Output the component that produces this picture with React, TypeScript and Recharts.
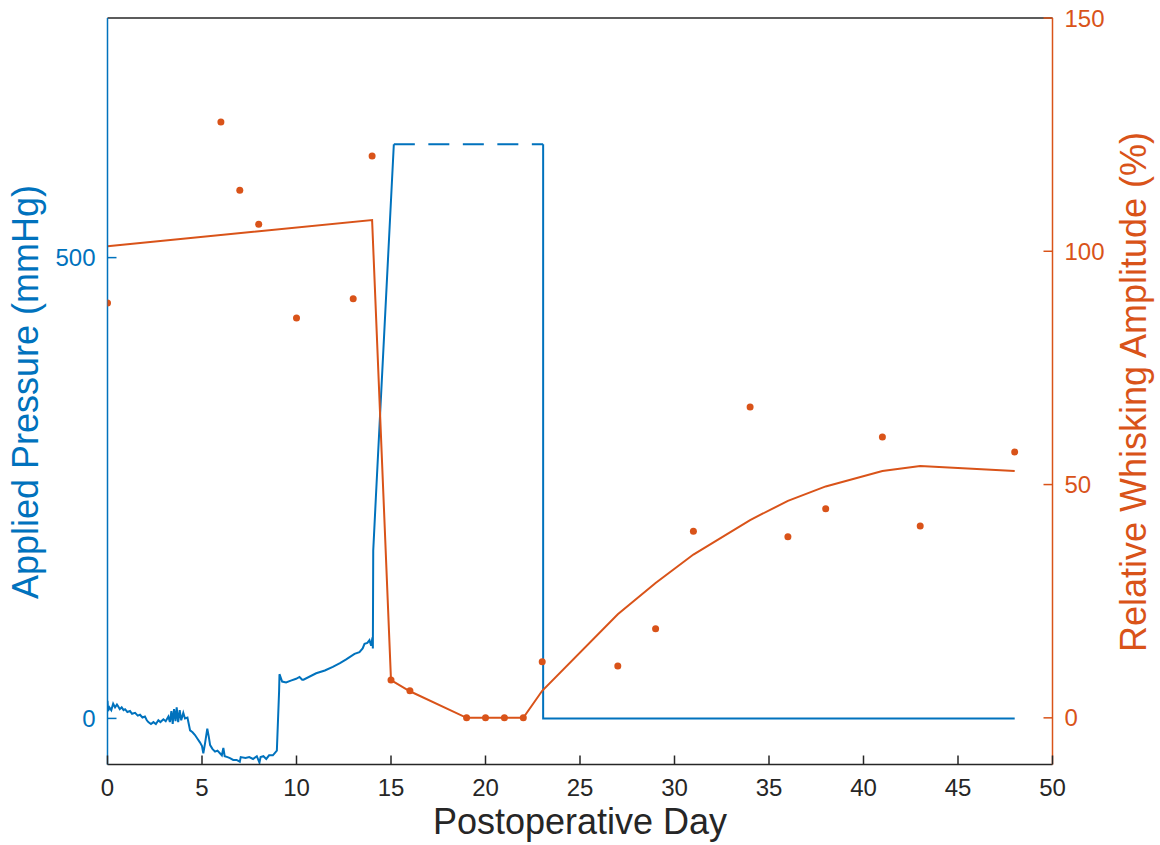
// Pressure vs whisking amplitude: dual-axis line/scatter chart using Recharts
import { ComposedChart, Line, Scatter, XAxis, YAxis, ReferenceLine } from 'recharts';

const BLUE = '#0072BD';
const ORANGE = '#D95319';
const DARK = '#262626';
const FONT = '"Liberation Sans", Arial, Helvetica, sans-serif';

// applied pressure trace (day, mmHg)
const pressureDays = [
  0, 0.03, 0.1, 0.2, 0.3, 0.4, 0.5, 0.57, 0.65, 0.75, 0.85, 0.93, 1.05, 1.19, 1.3, 1.46, 1.6, 1.72,
  1.85, 1.98, 2.08, 2.16, 2.3, 2.43, 2.56, 2.69, 2.8, 2.96, 3.08, 3.22, 3.3, 3.38, 3.45, 3.52, 3.6,
  3.66, 3.74, 3.82, 3.9, 4.01, 4.1, 4.23, 4.3, 4.37, 4.5, 4.63, 4.76, 4.89, 5.0, 5.07, 5.16, 5.28,
  5.36, 5.43, 5.55, 5.69, 5.82, 5.96, 6.05, 6.13, 6.2, 6.35, 6.48, 6.65, 6.83, 7.0, 7.05, 7.3, 7.5,
  7.7, 7.9, 8.04, 8.1, 8.25, 8.4, 8.55, 8.75, 8.96, 9.08, 9.1, 9.24, 9.45, 9.7, 9.98, 10.16, 10.3,
  10.37, 11.04, 11.5, 11.92, 12.3, 12.63, 13.07, 13.33, 13.5, 13.6, 13.75, 13.86, 13.95, 14.02,
  14.04, 14.06, 14.2, 15.15,
];
const pressureValues = [
  19, 8, 12, 9, 16, 12, 15, 13, 10, 12, 9, 10, 7, 8, 5, 6, 3, 4,
  1, 2, -2, -4, -6, -4, -6, -2, -4, -1, -3, 2, -4, 8, -6, 10, -3,
  12, -4, 9, -2, 6, 0, 1, -6, -13, -15, -18, -22, -26, -30, -38, -27, -11,
  -20, -29, -33, -36, -35, -38, -40, -32, -41, -42, -43, -45, -45, -47, -42, -43, -42,
  -44, -41, -48, -42, -41, -44, -40, -40, -35, 30, 48, 40, 39, 41, 43, 45, 42,
  42, 49, 52, 56, 60, 64, 70, 72, 76, 81, 82, 85, 79, 88,
  76, 182, 240, 623,
];
// estimated (dashed) plateau, then release
const plateauDays = [15.15, 23.05];
const plateauValues = [623, 623];
const releaseDays = [23.05, 23.05, 48];
const releaseValues = [623, 0, 0];

// relative whisking amplitude (%)
const ampDays = [0, 6, 7, 8, 10, 13, 14, 15, 16, 19, 20, 21, 22, 23, 27, 29, 31, 34, 36, 38, 41, 43, 48];
const ampValues = [
  88.9, 127.7, 113.1, 105.8, 85.7, 89.8, 120.4, 8.1, 5.8, 0, 0, 0, 0, 12, 11.1, 19.1, 40, 66.6, 38.8,
  44.8, 60.2, 41.1, 57,
];
// fitted amplitude trend
const fitDays = [0, 14, 15, 16, 19, 20, 21, 22, 23, 27, 29, 31, 34, 36, 38, 41, 43, 48];
const fitValues = [101.1, 106.7, 8.1, 5.7, 0, 0, 0, 0, 5.8, 22.2, 28.9, 35, 42.4, 46.5, 49.6, 52.9, 54, 52.9];

const xTicks = [0, 5, 10, 15, 20, 25, 30, 35, 40, 45, 50];
const leftTicks = [0, 500];
const rightTicks = [0, 50, 100, 150];

const toRows = (days: number[], vals: number[], key: string) =>
  days.map((d, i) => ({ day: d, [key]: vals[i] }));

const pressureData = toRows(pressureDays, pressureValues, 'p');
const plateauData = toRows(plateauDays, plateauValues, 'p');
const releaseData = toRows(releaseDays, releaseValues, 'p');
const ampData = toRows(ampDays, ampValues, 'amp');
const fitData = toRows(fitDays, fitValues, 'amp');

const TICK_LEN = 9;

function XTick({ x, y, payload }: any) {
  return (
    <g>
      <line x1={x} y1={y} x2={x} y2={y - TICK_LEN} stroke={DARK} strokeWidth={1.5} />
      <text x={x} y={y + 31.5} textAnchor="middle" fill={DARK} fontSize={24} fontFamily={FONT}>
        {payload.value}
      </text>
    </g>
  );
}

function LeftTick({ x, y, payload }: any) {
  return (
    <g>
      <line x1={x} y1={y} x2={x + TICK_LEN} y2={y} stroke={BLUE} strokeWidth={1.5} />
      <text x={x - 12} y={y} dy="0.36em" textAnchor="end" fill={BLUE} fontSize={24} fontFamily={FONT}>
        {payload.value}
      </text>
    </g>
  );
}

function RightTick({ x, y, payload }: any) {
  return (
    <g>
      <line x1={x} y1={y} x2={x - TICK_LEN} y2={y} stroke={ORANGE} strokeWidth={1.5} />
      <text x={x + 12} y={y} dy="0.36em" textAnchor="start" fill={ORANGE} fontSize={24} fontFamily={FONT}>
        {payload.value}
      </text>
    </g>
  );
}

export default function App() {
  return (
    <div style={{ position: 'absolute', left: 0, top: 0, width: 1160, height: 845, background: '#fff' }}>
      <ComposedChart width={1160} height={845} margin={{ top: 18, right: 47.5, bottom: 40.5, left: 47.5 }}>
        <XAxis
          type="number"
          dataKey="day"
          domain={[0, 50]}
          ticks={xTicks}
          allowDataOverflow
          height={40}
          tickSize={0}
          tickMargin={0}
          tick={<XTick />}
          axisLine={{ stroke: DARK, strokeWidth: 1.5 }}
          tickLine={false}
          label={{
            value: 'Postoperative Day',
            content: () => (
              <text x={580} y={834} textAnchor="middle" fill={DARK} fontSize={36} fontFamily={FONT}>
                Postoperative Day
              </text>
            ),
          }}
        />
        <YAxis
          yAxisId="left"
          orientation="left"
          type="number"
          domain={[-50, 760]}
          ticks={leftTicks}
          allowDataOverflow
          width={60}
          tickSize={0}
          tickMargin={0}
          tick={<LeftTick />}
          axisLine={{ stroke: BLUE, strokeWidth: 1.5 }}
          tickLine={false}
          label={{
            value: 'Applied Pressure (mmHg)',
            content: () => (
              <text
                x={38}
                y={392}
                transform="rotate(-90 38 392)"
                textAnchor="middle"
                fill={BLUE}
                fontSize={36}
                fontFamily={FONT}
              >
                Applied Pressure (mmHg)
              </text>
            ),
          }}
        />
        <YAxis
          yAxisId="right"
          orientation="right"
          type="number"
          domain={[-10, 150]}
          ticks={rightTicks}
          allowDataOverflow
          width={60}
          tickSize={0}
          tickMargin={0}
          tick={<RightTick />}
          axisLine={{ stroke: ORANGE, strokeWidth: 1.5 }}
          tickLine={false}
          label={{
            value: 'Relative Whisking Amplitude (%)',
            content: () => (
              <text
                x={1146}
                y={392}
                transform="rotate(-90 1146 392)"
                textAnchor="middle"
                fill={ORANGE}
                fontSize={36}
                fontFamily={FONT}
              >
                Relative Whisking Amplitude (%)
              </text>
            ),
          }}
        />
        <ReferenceLine yAxisId="left" y={760} stroke={DARK} strokeWidth={1.5} />

        <Line
          yAxisId="left"
          data={pressureData}
          dataKey="p"
          type="linear"
          stroke={BLUE}
          strokeWidth={2}
          dot={false}
          isAnimationActive={false}
        />
        <Line
          yAxisId="left"
          data={plateauData}
          dataKey="p"
          type="linear"
          stroke={BLUE}
          strokeWidth={2}
          strokeDasharray="21 13.5"
          dot={false}
          isAnimationActive={false}
        />
        <Line
          yAxisId="left"
          data={releaseData}
          dataKey="p"
          type="linear"
          stroke={BLUE}
          strokeWidth={2}
          dot={false}
          isAnimationActive={false}
        />
        <Line
          yAxisId="right"
          data={fitData}
          dataKey="amp"
          type="linear"
          stroke={ORANGE}
          strokeWidth={2}
          dot={false}
          isAnimationActive={false}
        />
        <Scatter
          yAxisId="right"
          data={ampData}
          dataKey="amp"
          fill={ORANGE}
          shape={(p: any) => <circle cx={p.cx} cy={p.cy} r={3.5} fill={ORANGE} />}
          isAnimationActive={false}
        />
      </ComposedChart>
    </div>
  );
}
